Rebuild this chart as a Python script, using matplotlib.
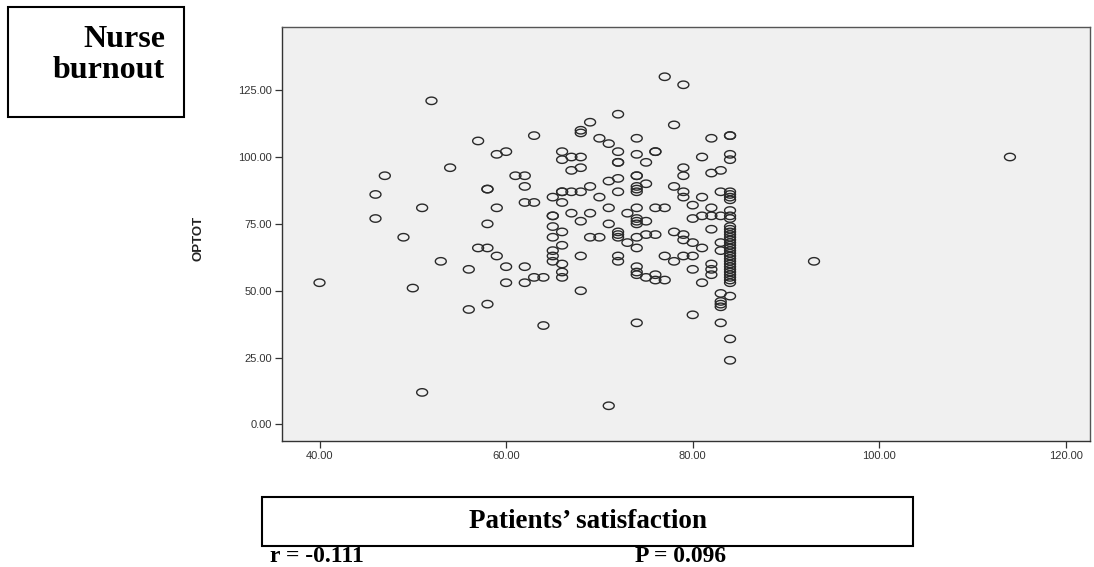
import numpy as np
import matplotlib
matplotlib.use("Agg")
import matplotlib.pyplot as plt
from matplotlib.path import Path
from matplotlib.patches import Rectangle

# Patients' satisfaction (x) -> list of OPTOT values (y)
columns = {
    40: [53],
    46: [86, 77],
    47: [93],
    49: [70],
    50: [51],
    51: [81, 12],
    52: [121],
    53: [61],
    54: [96],
    56: [58, 43],
    57: [106, 66],
    58: [88, 88, 75, 66, 45],
    59: [101, 81, 63],
    60: [102, 59, 53],
    61: [93],
    62: [93, 89, 83, 59, 53],
    63: [108, 83, 55],
    64: [55, 37],
    65: [85, 78, 78, 74, 70, 65, 63, 61],
    66: [102, 99, 87, 87, 83, 72, 67, 60, 57, 55],
    67: [100, 95, 87, 79],
    68: [110, 109, 100, 96, 87, 76, 63, 50],
    69: [113, 89, 79, 70],
    70: [107, 85, 70],
    71: [105, 91, 81, 75, 7],
    72: [116, 102, 98, 98, 92, 87, 72, 71, 70, 63, 61],
    73: [79, 68],
    74: [107, 101, 93, 93, 89, 88, 87, 81, 77, 76, 75, 70, 66, 59, 57, 56, 38],
    75: [98, 90, 76, 71, 55],
    76: [102, 102, 81, 71, 56, 54],
    77: [130, 81, 63, 54],
    78: [112, 89, 72, 61],
    79: [127, 96, 93, 87, 85, 71, 69, 63],
    80: [82, 77, 68, 63, 58, 41],
    81: [100, 85, 78, 66, 53],
    82: [107, 94, 81, 78, 73, 60, 58, 56],
    83: [95, 87, 78, 68, 65, 49, 46, 45, 44, 38],
    84: [108, 108, 101, 99, 87, 86, 85, 84, 80, 78, 77, 74, 73, 72, 71, 70,
         69, 68, 67, 66, 65, 64, 63, 62, 61, 60, 59, 58, 57, 56, 55, 54, 53,
         48, 32, 24],
    93: [61],
    114: [100],
}
satisfaction = np.array([x for x, ys in columns.items() for _ in ys])
optot = np.array([y for ys in columns.values() for y in ys])

x_ticks = [40, 60, 80, 100, 120]
y_ticks = [0, 25, 50, 75, 100, 125]

W, H = 1094, 567
fig = plt.figure(figsize=(W / 100, H / 100), dpi=100)

def fx(px):
    return px / W

def fy(py):
    return 1 - py / H

# plot area in pixel coords
left, right, top, bottom = 282, 1090, 27, 441
ax = fig.add_axes([fx(left), fy(bottom), fx(right - left), (bottom - top) / H])
ax.set_facecolor('#f0f0f0')

# squashed open circle like SPSS markers
t = np.linspace(0, 2 * np.pi, 40)
ellipse = Path(np.column_stack([np.cos(t), 0.68 * np.sin(t)]), closed=True)
ax.scatter(satisfaction, optot, marker=ellipse, s=62, facecolors='none',
           edgecolors='#2a2a2a', linewidths=1.0, zorder=3)

ax.set_xlim(35.98, 122.58)
ax.set_ylim(-6.17, 148.6)
ax.set_xticks(x_ticks)
ax.set_yticks(y_ticks)
ax.set_xticklabels([f'{v:.2f}' for v in x_ticks])
ax.set_yticklabels([f'{v:.2f}' for v in y_ticks])
ax.tick_params(direction='out', length=5, width=0.9, colors='#333333',
               labelsize=8, pad=2)
for lab in ax.get_xticklabels() + ax.get_yticklabels():
    lab.set_fontfamily('Liberation Sans')
for s in ax.spines.values():
    s.set_color('#555555')
    s.set_linewidth(1.0)
ax.spines['left'].set_color('#333333')
ax.spines['bottom'].set_color('#333333')

fig.text(fx(199), fy(238), 'OPTOT', rotation=90, ha='center', va='center',
         fontsize=9.5, fontweight='bold', family='Liberation Sans', color='#222222')

# box: Nurse burnout
fig.add_artist(Rectangle((fx(8), fy(117)), fx(176), 110 / H, transform=fig.transFigure,
                         fill=False, edgecolor='black', linewidth=1.5))
fig.text(fx(165), fy(55), 'Nurse\nburnout', ha='right', va='center',
         multialignment='right', fontsize=23, fontweight='bold',
         family='Liberation Serif', linespacing=1.05)

# box: Patients' satisfaction
fig.add_artist(Rectangle((fx(262), fy(546)), fx(651), 49 / H, transform=fig.transFigure,
                         fill=False, edgecolor='black', linewidth=1.5))
fig.text(fx(588), fy(522), 'Patients\u2019 satisfaction', ha='center', va='center',
         fontsize=19.5, fontweight='bold', family='Liberation Serif')

fig.text(fx(317), fy(556), 'r = -0.111', ha='center', va='center',
         fontsize=17, fontweight='bold', family='Liberation Serif')
fig.text(fx(681), fy(556), 'P = 0.096', ha='center', va='center',
         fontsize=17, fontweight='bold', family='Liberation Serif')

fig.savefig('out.png', dpi=100)
